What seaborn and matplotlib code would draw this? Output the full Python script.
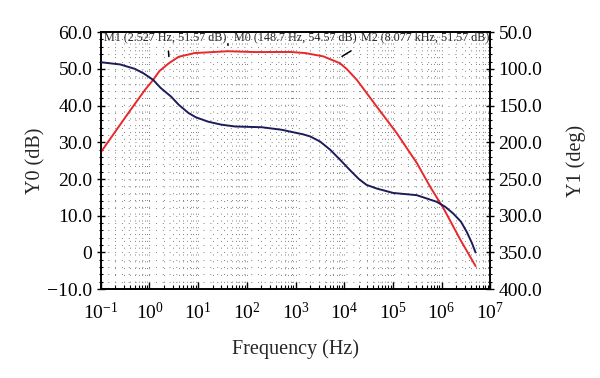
import matplotlib

matplotlib.use("Agg")
import matplotlib.pyplot as plt
import numpy as np
import pandas as pd
import seaborn as sns
from matplotlib.ticker import MultipleLocator, LogLocator, FuncFormatter

# Magnitude trace (Y0, left axis)
gain_freq_hz = [0.1, 0.365, 0.8, 1.19, 1.6, 2.527, 4.0, 8.5, 40.7, 148.7, 776,
                1585, 3715, 8077, 11200, 18200, 46800, 120000, 313000,
                589000, 1.1e6, 2.45e6, 5.0e6]
gain_db = [27.3, 37.9, 44.2, 47.0, 49.4, 51.57, 53.3, 54.3, 54.8, 54.57, 54.6,
           54.3, 53.4, 51.57, 50.0, 47.0, 39.7, 32.5, 24.3,
           17.8, 12.0, 3.4, -3.7]

# Phase trace (Y1, right axis, inverted)
phase_freq_hz = [0.1, 0.25, 0.5, 0.75, 1.19, 1.7, 2.8, 4.0, 6.3, 9.0, 16.2,
                 30, 57.5, 204, 525, 1000, 1400, 2000, 3200, 5130, 8300,
                 13200, 20000, 28800, 46800, 102000, 309000,
                 794000, 1.2e6, 1.74e6, 2.5e6, 3.3e6, 4.2e6, 5.0e6]
phase_deg = [91, 94, 100, 106, 115, 126, 138, 149, 160, 166, 172,
             176, 178.5, 179.5, 183, 187, 189, 192, 199, 210, 224,
             238, 250, 258, 263, 269, 272,
             281, 288, 297, 308, 322, 337, 350]

# Cursor markers
marker_names = ["M1", "M0", "M2"]
marker_freq_text = ["2.527 Hz", "148.7 Hz", "8.077 kHz"]
marker_db = [51.57, 54.57, 51.57]

RED = "#e8282b"
NAVY = "#1c1c5a"

sns.set_theme(style="ticks")
plt.rcParams.update({
    "font.family": ["Liberation Serif", "DejaVu Serif"],
    "mathtext.fontset": "stix",
    "axes.edgecolor": "black",
    "axes.linewidth": 1.2,
    "xtick.color": "black",
    "ytick.color": "black",
})

fig = plt.figure(figsize=(6.0, 3.78), dpi=100)
ax = fig.add_axes([0.168, 0.235, 0.649, 0.68])
ax.set_xscale("log")

gain_df = pd.DataFrame({"freq": gain_freq_hz, "db": gain_db})
phase_df = pd.DataFrame({"freq": phase_freq_hz, "deg": phase_deg})

sns.lineplot(data=gain_df, x="freq", y="db", color=RED, linewidth=1.4,
             sort=False, ax=ax, zorder=4)

ax2 = ax.twinx()
sns.lineplot(data=phase_df, x="freq", y="deg", color=NAVY, linewidth=1.4,
             sort=False, ax=ax2, zorder=3)

ax.set_xlim(0.1, 1e7)
ax.set_ylim(-10, 60)
ax2.set_ylim(400, 50)

ax.xaxis.set_major_locator(LogLocator(base=10, numticks=20))
ax.xaxis.set_minor_locator(LogLocator(base=10, subs=np.arange(2, 10), numticks=100))
ax.yaxis.set_major_locator(MultipleLocator(10))
ax.yaxis.set_minor_locator(MultipleLocator(2))
ax.yaxis.set_major_formatter(FuncFormatter(lambda v, p: "0" if abs(v) < 1e-9 else f"{v:.1f}".replace("-", "\u2212")))
ax2.yaxis.set_major_locator(MultipleLocator(50))
ax2.yaxis.set_minor_locator(MultipleLocator(10))
ax2.yaxis.set_major_formatter(FuncFormatter(lambda v, p: f"{v:.1f}"))

for a in (ax, ax2):
    a.tick_params(axis="y", which="major", direction="inout", length=6, width=1.0,
                  labelsize=14, pad=3)
    a.tick_params(axis="y", which="minor", direction="inout", length=3.5, width=0.8)
ax.tick_params(axis="x", which="major", direction="in", length=5, width=1.0,
               labelsize=14, pad=9)
ax.tick_params(axis="x", which="minor", direction="in", length=3, width=0.8)

ax.grid(which="both", axis="both", linestyle=(0, (1, 6)), linewidth=0.7, color="0.5")
ax.set_axisbelow(True)

ax.set_xlabel("Frequency (Hz)", fontsize=14.5, labelpad=12)
ax.set_ylabel("Y0 (dB)", fontsize=14.5, labelpad=1)
ax2.set_ylabel("Y1 (deg)", fontsize=14.5, rotation=90, labelpad=17)

# Cursor labels along the top edge
label_x = [0.008, 0.342, 0.667]
for name, ftxt, db, lx in zip(marker_names, marker_freq_text, marker_db, label_x):
    ax2.text(lx, 0.978, f"{name} ({ftxt}, {db:.2f} dB)", transform=ax.transAxes,
             fontsize=8.7, ha="left", va="center", zorder=6)

arrow_kw = dict(arrowstyle="-", color="black", lw=1.1)
ax.annotate("", xy=(2.527, 52.6), xytext=(2.43, 55.6), arrowprops=arrow_kw)
ax.annotate("", xy=(8077, 53.0), xytext=(15500, 55.3), arrowprops=arrow_kw)
ax.annotate("", xy=(41, 56.4), xytext=(41, 57.6), arrowprops=arrow_kw)

fig.savefig("out.png", dpi=100)
